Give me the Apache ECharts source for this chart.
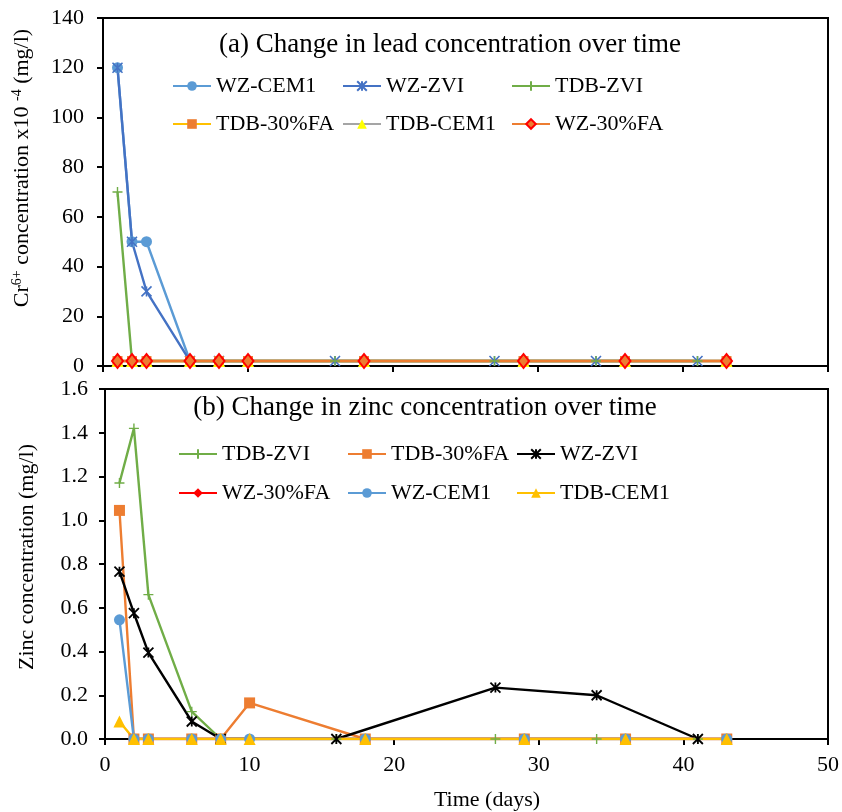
<!DOCTYPE html>
<html>
<head>
<meta charset="utf-8">
<script src="https://cdn.jsdelivr.net/npm/echarts@6/dist/echarts.min.js"></script>
<style>
  html, body { margin: 0; padding: 0; background: #fff; }
  #chart { width: 842px; height: 812px; }
</style>
</head>
<body>
<div id="chart"></div>
<script>
// days sampled
const daysCem = [1, 2, 3, 6, 8, 10, 18, 29, 36, 43]
const daysZvi = [1, 2, 3, 6, 8, 16, 27, 34, 41]
const xTicks = [0, 10, 20, 30, 40, 50]

// (a) Cr6+ x10^-4 mg/l
const crWzCem1 = [120, 50, 50, 2, 2, 2, 2, 2, 2, 2]
const crWzZvi = [120, 50, 30, 2, 2, 2, 2, 2, 2]
const crTdbZvi = [70, 2, 2, 2, 2, 2, 2, 2, 2]
const crTdb30Fa = [2, 2, 2, 2, 2, 2, 2, 2, 2, 2]
const crTdbCem1 = [2, 2, 2, 2, 2, 2, 2, 2, 2, 2]
const crWz30Fa = [2, 2, 2, 2, 2, 2, 2, 2, 2, 2]

// (b) zinc mg/l
const znTdbZvi = [1.17, 1.42, 0.66, 0.125, 0, 0, 0, 0, 0]
const znTdb30Fa = [1.045, 0, 0, 0, 0, 0.165, 0, 0, 0, 0]
const znWzZvi = [0.765, 0.575, 0.395, 0.08, 0, 0, 0.235, 0.2, 0]
const znWz30Fa = [null, 0, 0, 0, 0, 0, 0, 0, 0, 0]
const znWzCem1 = [0.545, 0, 0, 0, 0, 0, 0, 0, 0, 0]
const znTdbCem1 = [0.08, 0, 0, 0, 0, 0, 0, 0, 0, 0]

const FONT = 'Liberation Serif'
const STAR = 'path://M0,0L10,10M10,0L0,10M5,0L5,10'
const PLUS = 'path://M5,0L5,10M0,5L10,5'

function pts(xs, ys) {
  return xs.map((x, i) => [x, ys[i]])
}

function line(name, idx, xs, ys, lineColor, sym, symColor, size, border) {
  return {
    name: name,
    type: 'line',
    xAxisIndex: idx,
    yAxisIndex: idx,
    data: pts(xs, ys),
    symbol: sym,
    symbolSize: size,
    showSymbol: true,
    connectNulls: false,
    animation: false,
    lineStyle: { color: lineColor, width: 2.4 },
    itemStyle: {
      color: symColor,
      borderColor: border ? border[0] : symColor,
      borderWidth: border ? border[1] : 0
    },
    emphasis: { disabled: true }
  }
}

const axisTxt = { fontFamily: FONT, fontSize: 22, color: '#000' }

function xAxis(idx, labels) {
  return {
    type: 'value', gridIndex: idx, min: 0, max: 50, interval: 10,
    axisLine: { onZero: false, lineStyle: { color: '#000', width: 2 } },
    axisTick: { show: true, length: 6, lineStyle: { color: '#000', width: 2 } },
    axisLabel: { show: labels, margin: 15, ...axisTxt },
    splitLine: { show: false }
  }
}

function yAxis(idx, max, interval, fmt, margin) {
  return {
    type: 'value', gridIndex: idx, min: 0, max: max, interval: interval,
    axisLine: { show: true, lineStyle: { color: '#000', width: 2 } },
    axisTick: { show: true, length: 6, lineStyle: { color: '#000', width: 2 } },
    axisLabel: { margin: margin, formatter: fmt, ...axisTxt },
    splitLine: { show: false }
  }
}

// one legend per entry so the columns line up like the original
function legendAt(name, left, top) {
  return {
    data: [name], left: left, top: top,
    padding: 0, itemWidth: 38, itemHeight: 12,
    selectedMode: false,
    textStyle: { fontFamily: FONT, fontSize: 22, color: '#000' }
  }
}

let chart = echarts.init(document.getElementById('chart'))

chart.setOption({
  backgroundColor: '#fff',
  animation: false,
  grid: [
    { left: 103, top: 18, width: 725, height: 348, show: true, borderColor: '#000', borderWidth: 2 },
    { left: 105, top: 389, width: 723, height: 350, show: true, borderColor: '#000', borderWidth: 2 }
  ],
  xAxis: [xAxis(0, false), xAxis(1, true)],
  yAxis: [
    yAxis(0, 140, 20, v => String(v), 19),
    yAxis(1, 1.6, 0.2, v => v.toFixed(1), 17)
  ],
  legend: [
    legendAt('WZ-CEM1', 172, 75),
    legendAt('WZ-ZVI', 342, 75),
    legendAt('TDB-ZVI', 511, 75),
    legendAt('TDB-30%FA', 172, 113),
    legendAt('TDB-CEM1', 342, 113),
    legendAt('WZ-30%FA', 511, 113),
    legendAt('TDB-ZVI ', 178, 443),
    legendAt('TDB-30%FA ', 347, 443),
    legendAt('WZ-ZVI ', 516, 443),
    legendAt('WZ-30%FA ', 178, 482),
    legendAt('WZ-CEM1 ', 347, 482),
    legendAt('TDB-CEM1 ', 516, 482)
  ],
  series: [
    line('WZ-CEM1', 0, daysCem, crWzCem1, '#5B9BD5', 'circle', '#5B9BD5', 11),
    line('WZ-ZVI', 0, daysZvi, crWzZvi, '#4472C4', STAR, '#4472C4', 10, ['#4472C4', 1.6]),
    line('TDB-ZVI', 0, daysZvi, crTdbZvi, '#70AD47', PLUS, '#70AD47', 10, ['#70AD47', 1.4]),
    line('TDB-30%FA', 0, daysCem, crTdb30Fa, '#FFC000', 'rect', '#ED7D31', 10),
    line('TDB-CEM1', 0, daysCem, crTdbCem1, '#A5A5A5', 'triangle', '#FFFF00', 12),
    line('WZ-30%FA', 0, daysCem, crWz30Fa, '#ED7D31', 'diamond', '#ED7D31', [11, 14], ['#FF0000', 2]),

    line('TDB-ZVI ', 1, daysZvi, znTdbZvi, '#70AD47', PLUS, '#70AD47', 10, ['#70AD47', 1.4]),
    line('TDB-30%FA ', 1, daysCem, znTdb30Fa, '#ED7D31', 'rect', '#ED7D31', 11),
    line('WZ-ZVI ', 1, daysZvi, znWzZvi, '#000000', STAR, '#000000', 10, ['#000000', 1.8]),
    line('WZ-30%FA ', 1, daysCem, znWz30Fa, '#FF0000', 'diamond', '#FF0000', 10),
    line('WZ-CEM1 ', 1, daysCem, znWzCem1, '#5B9BD5', 'circle', '#5B9BD5', 11),
    line('TDB-CEM1 ', 1, daysCem, znTdbCem1, '#FFC000', 'triangle', '#FFC000', 12)
  ],
  graphic: [
    {
      type: 'text', x: 450, y: 45,
      style: { text: '(a) Change in lead concentration over time', fontFamily: FONT, fontSize: 27, fill: '#000', align: 'center', verticalAlign: 'middle' }
    },
    {
      type: 'text', x: 425, y: 408,
      style: { text: '(b) Change in zinc concentration over time', fontFamily: FONT, fontSize: 27, fill: '#000', align: 'center', verticalAlign: 'middle' }
    },
    {
      type: 'text', x: 22, y: 168, rotation: Math.PI / 2,
      style: {
        text: '{n|Cr}{s|6+}{n| concentration x10 }{s|-4}{n| (mg/l)}',
        fontFamily: FONT, fontSize: 22, fill: '#000', align: 'center', verticalAlign: 'middle',
        rich: {
          n: { fontFamily: FONT, fontSize: 22, lineHeight: 24, fill: '#000' },
          s: { fontFamily: FONT, fontSize: 14, lineHeight: 24, verticalAlign: 'top', fill: '#000' }
        }
      }
    },
    {
      type: 'text', x: 27, y: 557, rotation: Math.PI / 2,
      style: { text: 'Zinc concentration (mg/l)', fontFamily: FONT, fontSize: 22, fill: '#000', align: 'center', verticalAlign: 'middle' }
    },
    {
      type: 'text', x: 487, y: 800,
      style: { text: 'Time (days)', fontFamily: FONT, fontSize: 22, fill: '#000', align: 'center', verticalAlign: 'middle' }
    }
  ]
})

window.onresize = function () {
  chart.resize()
}
</script>
</body>
</html>
